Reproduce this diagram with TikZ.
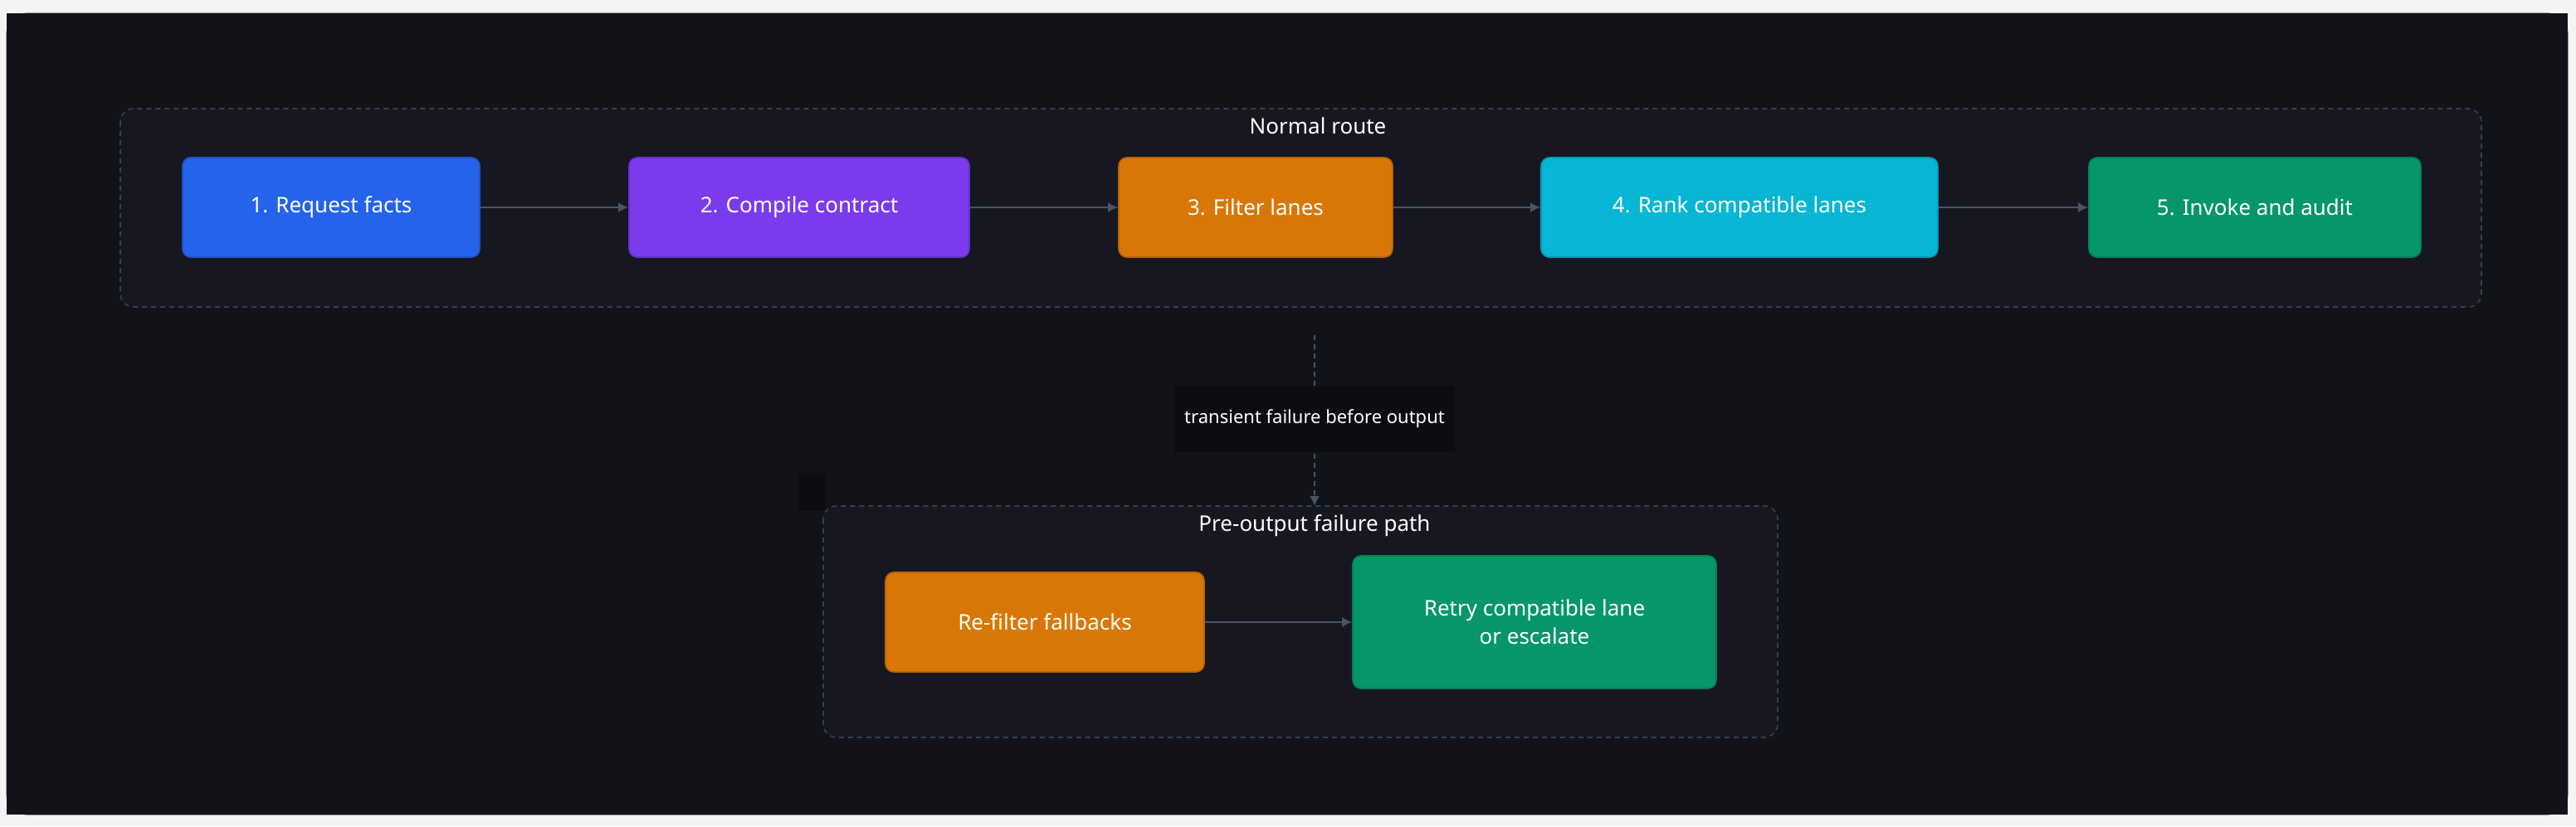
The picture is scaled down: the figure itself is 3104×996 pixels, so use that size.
\documentclass[tikz,border=0pt]{standalone}
\usepackage{fontspec}
\setmainfont{Noto Sans}
\begin{document}
\begin{tikzpicture}[x=0.5pt,y=-0.5pt,
  box/.style={draw=#1!85!black, fill=#1, rounded corners=5pt, line width=0.8pt},
  lbl/.style={text=white, font=\fontsize{13}{17}\selectfont, align=center},
  cont/.style={draw=cborder, dashed, dash pattern=on 3pt off 2.5pt, fill=cfill, rounded corners=8pt, line width=0.8pt},
  arr/.style={draw=arrc, line width=1pt, -{Latex[length=6pt,width=6pt]}},
  title/.style={text=white, font=\bfseries\fontsize{13}{16}\selectfont}]
\usetikzlibrary{arrows.meta}
\definecolor{bgout}{HTML}{F4F4F5}
\definecolor{card}{HTML}{111318}
\definecolor{cfill}{HTML}{161720}
\definecolor{cborder}{HTML}{334155}
\definecolor{arrc}{HTML}{475569}
\definecolor{cblue}{HTML}{2563EB}
\definecolor{cpurple}{HTML}{7C3AED}
\definecolor{corange}{HTML}{D97706}
\definecolor{ccyan}{HTML}{06B6D4}
\definecolor{cgreen}{HTML}{059669}
\definecolor{lblbg}{HTML}{0C0D11}
\useasboundingbox (0,0) rectangle (3104,996);
\fill[bgout] (0,0) rectangle (3104,996);
\fill[card] (8,16) rectangle (3094,982) [rounded corners=12pt];
\draw[card, fill=card, rounded corners=12pt] (8,16) rectangle (3094,982);
% containers
\draw[cont] (145,131) rectangle (2990,370);
\node[title] (t1) at (1588,152) {Normal route};
\draw[cont] (992,610) rectangle (2142,889);
\node[title] (t2) at (1584,634) {Pre-output failure path};
\fill[lblbg] (962,570) rectangle (994,616);
% nodes
\node[box=cblue, minimum width=179pt, minimum height=60pt, lbl] (n1) at (399,250) {1. Request facts};
\node[box=cpurple, minimum width=205pt, minimum height=60pt, lbl] (n2) at (963,250) {2. Compile contract};
\node[box=corange, minimum width=165pt, minimum height=60pt, lbl] (n3) at (1513,250) {3. Filter lanes};
\node[box=ccyan, minimum width=239pt, minimum height=60pt, lbl] (n4) at (2096,250) {4. Rank compatible lanes};
\node[box=cgreen, minimum width=200pt, minimum height=60pt, lbl] (n5) at (2717,250) {5. Invoke and audit};
\node[box=corange, minimum width=192pt, minimum height=60pt, lbl] (r1) at (1259,750) {Re-filter fallbacks};
\node[box=cgreen, minimum width=219pt, minimum height=80pt, lbl] (r2) at (1849,750) {Retry compatible lane\\or escalate};
\draw[arr] (n1) -- (n2);
\draw[arr] (n2) -- (n3);
\draw[arr] (n3) -- (n4);
\draw[arr] (n4) -- (n5);
\draw[arr] (r1) -- (r2);
\coordinate (s) at (1584,404);
\coordinate (e) at (1584,610);
\draw[arr, dash pattern=on 3pt off 2.5pt] (s) -- (e);
\node[fill=lblbg, text=white, font=\fontsize{11}{14}\selectfont, inner sep=6pt, minimum height=40pt] (lab) at (1584,505) {transient failure before output};
\end{tikzpicture}
\end{document}
